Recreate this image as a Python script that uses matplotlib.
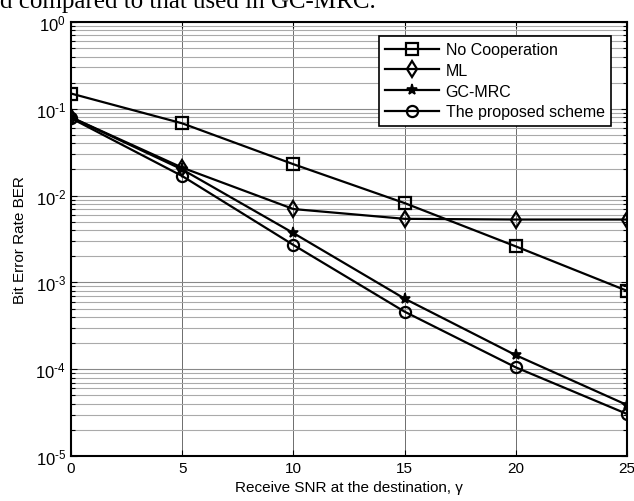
import matplotlib
matplotlib.use("Agg")
import matplotlib.pyplot as plt
import numpy as np
from matplotlib.ticker import LogLocator, FixedLocator, NullFormatter, FuncFormatter

plt.rcParams['font.family'] = ['Liberation Sans', 'DejaVu Sans']
plt.rcParams['mathtext.fontset'] = 'custom'
plt.rcParams['mathtext.rm'] = 'Liberation Sans'
plt.rcParams['mathtext.it'] = 'Liberation Sans'

snr = [0, 5, 10, 15, 20, 25]
no_coop = [0.15, 0.068, 0.023, 0.0082, 0.0026, 0.0008]
ml = [0.08, 0.021, 0.007, 0.0054, 0.0053, 0.0053]
gc_mrc = [0.08, 0.020, 0.0037, 0.00065, 0.000145, 0.0000387]
proposed = [0.078, 0.0168, 0.0027, 0.00046, 0.000105, 0.0000305]
labels = ['No Cooperation', 'ML', 'GC-MRC', 'The proposed scheme']
xticks = [0, 5, 10, 15, 20, 25]

fig = plt.figure(figsize=(6.34, 5.02), dpi=100)
ax = fig.add_axes([71/634, 45/502, 556/634, 434/502])

lw = 1.6
ax.plot(snr, no_coop, color='black', lw=lw, marker='s', ms=8, mfc='none', mew=1.6, label=labels[0], zorder=3)
ax.plot(snr, ml, color='black', lw=lw, marker='d', ms=8, mfc='none', mew=1.6, label=labels[1], zorder=3)
ax.plot(snr, gc_mrc, color='black', lw=lw, marker='*', ms=8, mfc='black', mew=1.2, label=labels[2], zorder=3)
ax.plot(snr, proposed, color='black', lw=lw, marker='o', ms=8, mfc='none', mew=1.6, label=labels[3], zorder=3)

ax.set_yscale('log')
ax.set_ylim(1e-5, 1)
ax.set_xlim(0, 25)
ax.set_xticks(xticks)
ax.set_xticklabels([str(v) for v in xticks])
ax.yaxis.set_major_locator(FixedLocator([1e-5, 1e-4, 1e-3, 1e-2, 1e-1, 1]))
ax.yaxis.set_minor_locator(LogLocator(base=10, subs=np.arange(2, 10), numticks=20))
ax.yaxis.set_minor_formatter(NullFormatter())
ax.yaxis.set_major_formatter(FuncFormatter(
    lambda v, p: r'$\mathregular{10^{\text{%d}}}$' % int(round(np.log10(v)))))

ax.tick_params(axis='both', which='both', direction='in', top=True, right=True, labelsize=11)
ax.tick_params(axis='y', labelsize=12)
ax.tick_params(which='major', length=4, width=0.8)
ax.tick_params(which='minor', length=3, width=0.8)

ax.grid(True, which='major', axis='x', color='#555555', lw=0.6)
ax.grid(True, which='major', axis='y', color='#888888', lw=0.8)
ax.grid(True, which='minor', axis='y', color='#aaaaaa', lw=0.8)
ax.set_axisbelow(True)
for s in ax.spines.values():
    s.set_linewidth(1.5)

ax.set_xlabel('Receive SNR at the destination, γ', fontsize=11, labelpad=4)
ax.set_ylabel('Bit Error Rate BER', fontsize=11, labelpad=6)

leg = ax.legend(loc='upper right', bbox_to_anchor=((619-71)/556, (457-29)/434),
                fontsize=11.5, handlelength=3.4, handletextpad=0.4, labelspacing=0.35,
                borderpad=0.4, fancybox=False, framealpha=1, edgecolor='black')
leg.get_frame().set_linewidth(1.2)

fig.text(0.0, 1 - 8/502, 'd compared to that used in GC-MRC.', family='Liberation Serif',
         fontsize=18, va='baseline', ha='left')

fig.savefig('out.png', dpi=100)
